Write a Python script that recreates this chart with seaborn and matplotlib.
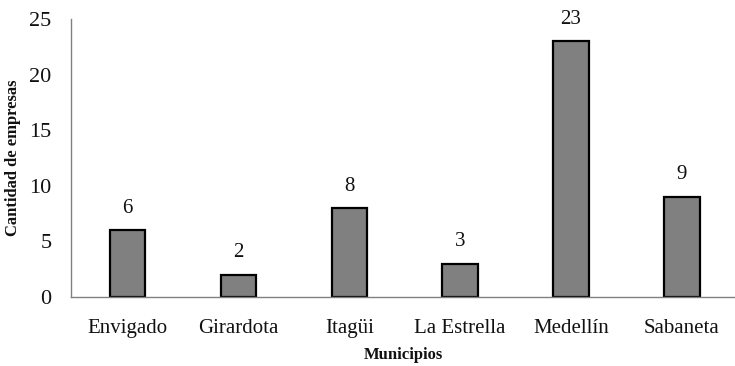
import matplotlib
matplotlib.use("Agg")
import matplotlib.pyplot as plt
import seaborn as sns
import pandas as pd

municipios = ["Envigado", "Girardota", "Itagüi", "La Estrella", "Medellín", "Sabaneta"]
empresas = [6, 2, 8, 3, 23, 9]
y_ticks = [0, 5, 10, 15, 20, 25]

df = pd.DataFrame({"Municipios": municipios, "Cantidad de empresas": empresas})

sns.set_theme(style="white")
plt.rcParams["font.family"] = ["Liberation Serif", "DejaVu Serif"]

fig = plt.figure(figsize=(7.35, 3.66), dpi=100)
ax = fig.add_axes([0.0966, 0.1885, 0.9034, 0.7595])

sns.barplot(data=df, x="Municipios", y="Cantidad de empresas", ax=ax,
            color="#808080", saturation=1, width=0.32,
            edgecolor="black", linewidth=1.6)

for i, v in enumerate(empresas):
    ax.annotate(str(v), (i, v), xytext=(0, 9), textcoords="offset points",
                ha="center", va="bottom", fontsize=15, color="#111111")

ax.set_ylim(0, 25)
ax.set_xlim(-0.51, 5.48)
ax.set_yticks(y_ticks)
ax.tick_params(axis="both", length=0, colors="#111111")
ax.tick_params(axis="x", pad=16, labelsize=15)
ax.tick_params(axis="y", pad=14, labelsize=16)

ax.set_xlabel("Municipios", fontsize=12, fontweight="bold", color="#111111", labelpad=6)
ax.set_ylabel("Cantidad de empresas", fontsize=12, fontweight="bold", color="#111111", labelpad=6)

for side in ["top", "right"]:
    ax.spines[side].set_visible(False)
for side in ["left", "bottom"]:
    ax.spines[side].set_color("#808080")
    ax.spines[side].set_linewidth(1.0)

fig.savefig("out.png", dpi=100)
